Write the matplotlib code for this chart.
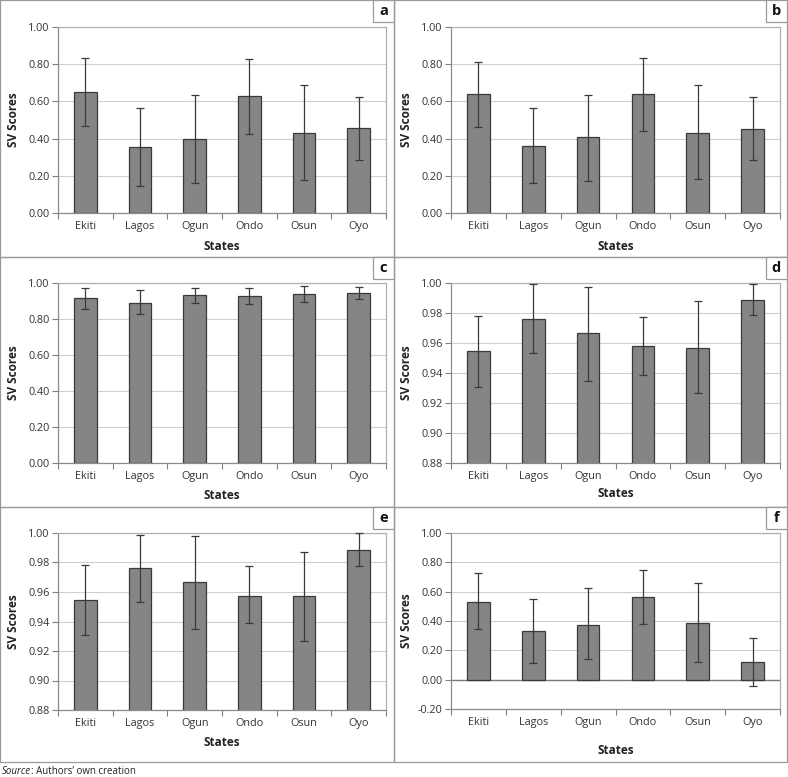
import matplotlib
matplotlib.use("Agg")
import matplotlib.pyplot as plt
import numpy as np
from matplotlib.patches import Rectangle
from matplotlib.lines import Line2D
from matplotlib.text import Annotation

plt.rcParams["font.family"] = ["Open Sans", "DejaVu Sans"]

states = ["Ekiti", "Lagos", "Ogun", "Ondo", "Osun", "Oyo"]

a_mean = [0.652, 0.355, 0.398, 0.630, 0.430, 0.459]
a_lo = [0.468, 0.145, 0.163, 0.427, 0.176, 0.284]
a_hi = [0.836, 0.562, 0.634, 0.830, 0.689, 0.623]

b_mean = [0.638, 0.362, 0.409, 0.638, 0.430, 0.454]
b_lo = [0.462, 0.161, 0.172, 0.443, 0.184, 0.284]
b_hi = [0.814, 0.562, 0.634, 0.836, 0.689, 0.623]

c_mean = [0.915, 0.887, 0.931, 0.928, 0.939, 0.946]
c_lo = [0.856, 0.826, 0.889, 0.881, 0.894, 0.913]
c_hi = [0.972, 0.959, 0.972, 0.972, 0.985, 0.978]

d_mean = [0.9547, 0.9762, 0.9664, 0.9580, 0.9567, 0.9884]
d_lo = [0.9304, 0.9536, 0.9344, 0.9389, 0.9267, 0.9787]
d_hi = [0.9778, 0.9993, 0.9976, 0.9773, 0.9878, 0.9993]

e_mean = [0.9545, 0.9760, 0.9665, 0.9572, 0.9570, 0.9885]
e_lo = [0.9307, 0.9529, 0.9348, 0.9391, 0.9267, 0.9774]
e_hi = [0.9783, 0.9986, 0.9977, 0.9774, 0.9873, 1.0000]

f_mean = [0.532, 0.332, 0.375, 0.566, 0.386, 0.123]
f_lo = [0.348, 0.114, 0.141, 0.377, 0.123, -0.041]
f_hi = [0.725, 0.550, 0.627, 0.750, 0.659, 0.284]

W, H = 788, 777
fig = plt.figure(figsize=(W / 100, H / 100), dpi=100)

# panel specs: letter, data, pixel box (left, right, top, bottom), y range, xlabel pad
panels = [
    ("a", a_mean, a_lo, a_hi, (58, 386, 27, 213), (0.0, 1.0, 0.2), 5.5, (0, 394, 0, 257)),
    ("b", b_mean, b_lo, b_hi, (451, 780, 27, 213), (0.0, 1.0, 0.2), 5.5, (394, 787, 0, 257)),
    ("c", c_mean, c_lo, c_hi, (58, 386, 283, 463), (0.0, 1.0, 0.2), 5.0, (0, 394, 257, 507)),
    ("d", d_mean, d_lo, d_hi, (451, 780, 283, 463), (0.88, 1.0, 0.02), 3.5, (394, 787, 257, 507)),
    ("e", e_mean, e_lo, e_hi, (58, 386, 533, 710), (0.88, 1.0, 0.02), 5.0, (0, 394, 507, 762)),
    ("f", f_mean, f_lo, f_hi, (451, 780, 533, 709), (-0.2, 1.0, 0.2), 11.0, (394, 787, 507, 762)),
]

x = np.arange(len(states))
bounds = np.arange(len(states) + 1) - 0.5

for letter, mean, lo, hi, (l, r, t, b), (y0, y1, step), pad, (pl, pr, pt, pb) in panels:
    ax = fig.add_axes([l / W, 1 - b / H, (r - l) / W, (b - t) / H])
    mean = np.array(mean)
    yerr = [mean - np.array(lo), np.array(hi) - mean]
    ax.bar(x, mean, width=0.415, color="#858585", edgecolor="#3a3a3a",
           linewidth=0.9, zorder=3)
    eb = ax.errorbar(x, mean, yerr=yerr, fmt="none", ecolor="#3a3a3a",
                     elinewidth=0.9, capsize=3.2, capthick=0.9, zorder=4)
    for art in eb.get_children():
        art.set_clip_on(False)

    ax.set_xlim(-0.5, len(states) - 0.5)
    ax.set_ylim(y0, y1)
    ticks = np.arange(y0, y1 + step / 2, step)
    ax.set_yticks(ticks)
    ax.set_yticklabels([f"{v:.2f}" for v in ticks], fontsize=7.8, color="#333333")
    ax.yaxis.grid(True, color="#cfcfcf", linewidth=0.8, zorder=0)
    ax.set_axisbelow(True)

    ax.set_xticks(bounds)
    ax.set_xticklabels([])
    ax.set_xticks(x, minor=True)
    ax.set_xticklabels(states, minor=True, fontsize=7.8, color="#333333")
    ax.tick_params(axis="x", which="major", length=4, width=0.8, color="#808080", direction="out")
    ax.tick_params(axis="x", which="minor", length=0, pad=6)
    ax.tick_params(axis="y", length=4, width=0.8, color="#808080", pad=2)

    for side in ("top", "right"):
        ax.spines[side].set_color("#b0b0b0")
        ax.spines[side].set_linewidth(0.9)
    for side in ("left", "bottom"):
        ax.spines[side].set_color("#8a8a8a")
        ax.spines[side].set_linewidth(0.9)

    if y0 < 0:
        ax.axhline(0, color="#7a7a7a", linewidth=1.0, zorder=2)

    ax.set_xlabel("States", fontsize=8.5, fontweight="bold", color="#222222", labelpad=pad)
    ax.set_ylabel("SV Scores", fontsize=8.5, fontweight="bold", color="#222222")
    ax.yaxis.set_label_coords(-0.115, 0.5)

    # panel frame
    fig.add_artist(Rectangle((pl / W, 1 - pb / H), (pr - pl) / W, (pb - pt) / H,
                             transform=fig.transFigure, fill=False,
                             edgecolor="#9a9a9a", linewidth=0.9))
    # letter box in top-right corner
    bw, bh = 21, 22
    fig.add_artist(Rectangle(((pr - bw) / W, 1 - (pt + bh) / H), bw / W, bh / H,
                             transform=fig.transFigure, fill=True, facecolor="white",
                             edgecolor="#9a9a9a", linewidth=0.9))
    fig.text((pr - bw / 2) / W, 1 - (pt + bh / 2) / H, letter, ha="center", va="center",
             fontsize=10.5, fontweight="bold", color="#111111")

t1 = fig.text(2 / W, 1 - 771 / H, "Source", fontsize=7, style="italic",
              color="#222222", ha="left", va="center")
rest = Annotation(": Authors\u2019 own creation", xy=(1, 0.5), xycoords=t1,
                  fontsize=7, color="#222222", ha="left", va="center")
fig.add_artist(rest)

fig.savefig("out.png", dpi=100)
